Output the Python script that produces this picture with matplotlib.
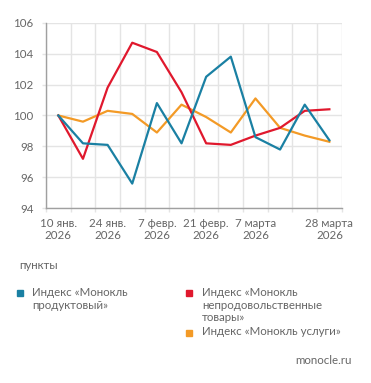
import matplotlib
matplotlib.use('Agg')
from matplotlib import pyplot as plt
from matplotlib.lines import Line2D

# weekly index values, points
weeks = list(range(12))
tick_pos = [0, 2, 4, 6, 8, 11]
tick_labels = ['10 янв.\n2026', '24 янв.\n2026', '7 февр.\n2026',
               '21 февр.\n2026', '7 марта\n2026', '28 марта\n2026']

food = [100, 98.2, 98.1, 95.6, 100.8, 98.2, 102.5, 103.8, 98.6, 97.8, 100.7, 98.4]
nonfood = [100, 97.2, 101.8, 104.7, 104.1, 101.5, 98.2, 98.1, 98.7, 99.2, 100.3, 100.4]
services = [100, 99.6, 100.3, 100.1, 98.9, 100.7, 99.9, 98.9, 101.1, 99.2, 98.7, 98.3]

names = ['Индекс «Монокль\nпродуктовый»',
         'Индекс «Монокль\nнепродовольственные\nтовары»',
         'Индекс «Монокль услуги»']
colors = ['#1a80a3', '#e0182d', '#f39a26']

plt.rcParams['font.family'] = ['Lato', 'DejaVu Sans']
txt = '#666666'
grid = '#e4e4e4'
fs = 8.3

fig = plt.figure(figsize=(3.71, 3.83), dpi=100)
ax = fig.add_axes([0.124, 0.456, 0.797, 0.485])

ax.plot(weeks, services, color=colors[2], lw=1.6, zorder=3)
ax.plot(weeks, food, color=colors[0], lw=1.6, zorder=4)
ax.plot(weeks, nonfood, color=colors[1], lw=1.6, zorder=3)

ax.set_xlim(-0.5, 11.5)
ax.set_ylim(94, 106)
ax.set_yticks([94, 96, 98, 100, 102, 104, 106])
ax.set_xticks(tick_pos)
ax.set_xticklabels(tick_labels, multialignment='center', linespacing=1.1)
ax.set_xticks([i - 0.5 for i in range(13)], minor=True)

ax.grid(True, which='minor', axis='x', color=grid, lw=1)
ax.grid(True, which='major', axis='y', color=grid, lw=1)
ax.set_axisbelow(True)

ax.tick_params(axis='x', which='major', length=0, pad=7, labelsize=fs, labelcolor=txt)
ax.tick_params(axis='x', which='minor', length=3, color=grid, width=1)
ax.tick_params(axis='y', length=3, color=grid, width=1, pad=6, labelsize=fs, labelcolor=txt)

for s in ['top', 'right']:
    ax.spines[s].set_visible(False)
for s in ['left', 'bottom']:
    ax.spines[s].set_color('#a0a0a0')
    ax.spines[s].set_linewidth(1)

# legend block
fig.text(19 / 371, 1 - 265.5 / 383, 'пункты', fontsize=fs, color=txt, va='center')

def item(x, y, color, label):
    fig.add_artist(Line2D([x / 371], [1 - y / 383], marker='s', ms=4.2, color=color,
                          lw=0, transform=fig.transFigure))
    fig.text((x + 13) / 371, 1 - (y - 6.5) / 383, label, fontsize=fs, color=txt,
             va='top', linespacing=1.2)

item(19.5, 293.3, colors[0], names[0])
item(189, 293.3, colors[1], names[1])
item(189, 332.7, colors[2], names[2])

fig.text(352 / 371, 1 - 361 / 383, 'monocle.ru', fontsize=fs, color=txt,
         ha='right', va='center')

fig.savefig('out.png', dpi=100)
